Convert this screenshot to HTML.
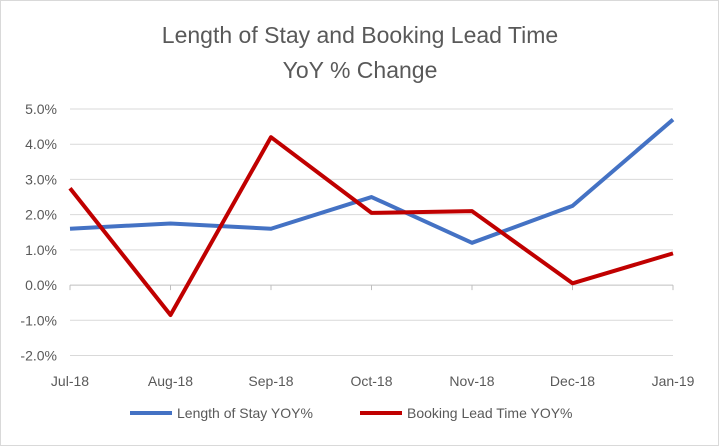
<!DOCTYPE html>
<html><head><meta charset="utf-8"><style>
body{margin:0;background:#fff}
svg{display:block;font-family:"Liberation Sans",Calibri,sans-serif}
</style></head><body>
<svg width="719" height="446" viewBox="0 0 719 446">
<rect x="0.5" y="0.5" width="718" height="445" fill="#fff" stroke="#d9d9d9"/>
<text x="360" y="43" text-anchor="middle" font-size="23" fill="#595959">Length of Stay and Booking Lead Time</text>
<text x="360" y="78" text-anchor="middle" font-size="23" fill="#595959">YoY % Change</text>
<g id="grid"></g><g id="ylab"></g><g id="xlab"></g><g id="lines"></g>
<g>
<line x1="130" y1="413" x2="172" y2="413" stroke="#4472C4" stroke-width="4"/>
<text x="177" y="418" font-size="14" fill="#595959">Length of Stay YOY%</text>
<line x1="360" y1="413" x2="402" y2="413" stroke="#C00000" stroke-width="4"/>
<text x="407" y="418" font-size="14" fill="#595959">Booking Lead Time YOY%</text>
</g>
</svg>
<script>
const categories=["Jul-18","Aug-18","Sep-18","Oct-18","Nov-18","Dec-18","Jan-19"];
const losValues=[1.6,1.75,1.6,2.5,1.2,2.25,4.7];
const bltValues=[2.75,-0.85,4.2,2.05,2.1,0.05,0.9];
const yTicks=[5,4,3,2,1,0,-1,-2];
const NS="http://www.w3.org/2000/svg";
const x0=70,x1=673,yTop=109,yBot=355.5,yMax=5,yMin=-2;
function xs(i){return x0+i*(x1-x0)/(categories.length-1);}
function ys(v){return yTop+(yMax-v)*(yBot-yTop)/(yMax-yMin);}
function mk(tag,attrs,parent){const e=document.createElementNS(NS,tag);for(const k in attrs)e.setAttribute(k,attrs[k]);document.getElementById(parent).appendChild(e);return e;}
yTicks.forEach(t=>{
 const g=mk("line",{x1:x0,x2:x1,y1:ys(t),y2:ys(t),stroke:t===0?"#bfbfbf":"#d9d9d9","stroke-width":1},"grid");
 
 
 const l=mk("text",{x:57,y:ys(t)+5,"text-anchor":"end","font-size":14,fill:"#595959"},"ylab");
 l.textContent=t.toFixed(1)+"%";
 
 
});
categories.forEach((c,i)=>{
 const tk=mk("line",{x1:xs(i),x2:xs(i),y1:ys(0),y2:ys(0)+5,stroke:"#bfbfbf"},"grid");
 
 
 const l=mk("text",{x:xs(i),y:386,"text-anchor":"middle","font-size":14,fill:"#595959"},"xlab");
 l.textContent=c;
 
 
});
function series(vals,color,name){
 const p=mk("polyline",{points:vals.map((v,i)=>xs(i)+","+ys(v)).join(" "),fill:"none",stroke:color,"stroke-width":4,"stroke-linejoin":"round"},"lines");
 
 
}
series(losValues,"#4472C4","length-of-stay-line");
series(bltValues,"#C00000","booking-lead-time-line");
</script>
</body></html>
